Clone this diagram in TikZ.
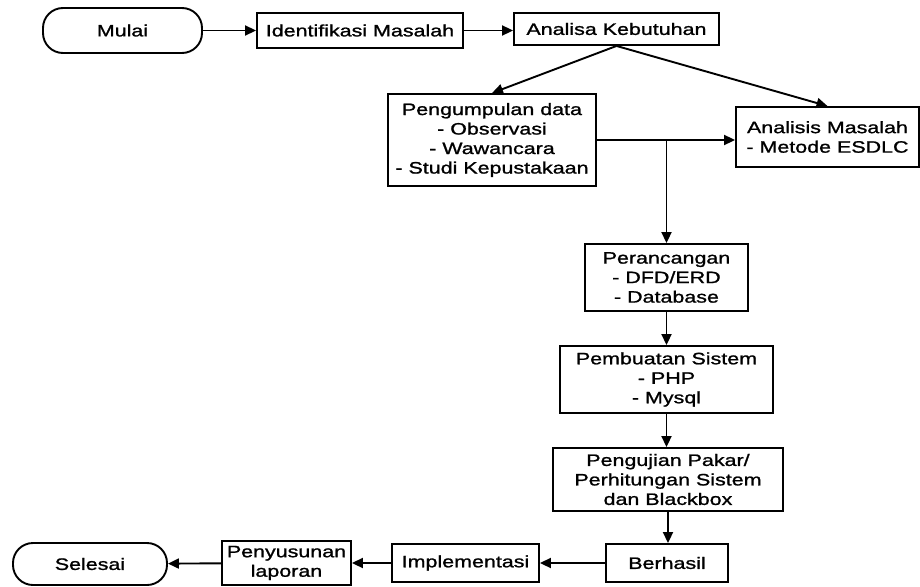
\documentclass[tikz,border=0pt]{standalone}
\usepackage{fontspec}
\setmainfont[FakeStretch=1.3, FakeBold=1.2]{Liberation Sans}
\usetikzlibrary{arrows.meta}

\begin{document}
\begin{tikzpicture}[
        x=1pt, y=-1pt,
        every node/.style={font=\fontsize{16.5}{19.5}\selectfont},
        proses/.style={rectangle, draw, line width=1.9pt, align=center, inner sep=1pt},
        terminal/.style={proses, rounded corners=20pt},
        panah/.style={line width=1.9pt, -{Triangle[length=11pt, width=10pt]}}
    ]

        \useasboundingbox (0,0) rectangle (920,586);

        \node[terminal, minimum width=159, minimum height=45] (mulai)        at (122.5,30.5) {Mulai};
        \node[proses,   minimum width=206, minimum height=35] (identifikasi) at (360,30.5)   {Identifikasi Masalah};
        \node[proses,   minimum width=205, minimum height=32] (analisa)      at (616.5,29)   {Analisa Kebutuhan};
        \node[proses,   minimum width=208, minimum height=92] (kumpul)       at (492,140)    {Pengumpulan data\\- Observasi\\- Wawancara\\- Studi Kepustakaan};
        \node[proses,   minimum width=183, minimum height=60] (analisis)     at (827.5,137)  {Analisis Masalah\\- Metode ESDLC};
        \node[proses,   minimum width=163, minimum height=67] (rancang)      at (666.5,277.5){Perancangan\\- DFD/ERD\\- Database};
        \node[proses,   minimum width=213, minimum height=67] (buat)         at (666.5,379.5){Pembuatan Sistem\\- PHP\\- Mysql};
        \node[proses,   minimum width=230, minimum height=63] (uji)          at (668,479.5)  {Pengujian Pakar/\\Perhitungan Sistem\\dan Blackbox};
        \node[proses,   minimum width=122, minimum height=38] (berhasil)     at (667,563)    {Berhasil};
        \node[proses,   minimum width=147, minimum height=38] (implementasi) at (465.5,563)  {Implementasi};
        \node[proses,   minimum width=129, minimum height=44] (laporan)      at (286.5,563)  {Penyusunan\\laporan};
        \node[terminal, minimum width=154, minimum height=42] (selesai)      at (90,564)     {Selesai};

        \draw[panah] (mulai) -- (identifikasi);
        \draw[panah] (identifikasi.east) -- (identifikasi.east -| analisa.west);
        \draw[panah] (analisa.south) -- (kumpul.north);
        \draw[panah] (analisa.south) -- (analisis.north);
        \draw[panah] (kumpul.east) -- (kumpul.east -| analisis.west);
        \draw[panah] (kumpul.east -| rancang.north) -- (rancang.north);
        \draw[panah] (rancang) -- (buat);
        \draw[panah] (buat.south) -- (buat.south |- uji.north);
        \draw[panah] (uji.south) -- (uji.south |- berhasil.north);
        \draw[panah] (berhasil) -- (implementasi);
        \draw[panah] (implementasi) -- (laporan);
        \draw[panah] (laporan) -- (selesai);

    \end{tikzpicture}
\end{document}
